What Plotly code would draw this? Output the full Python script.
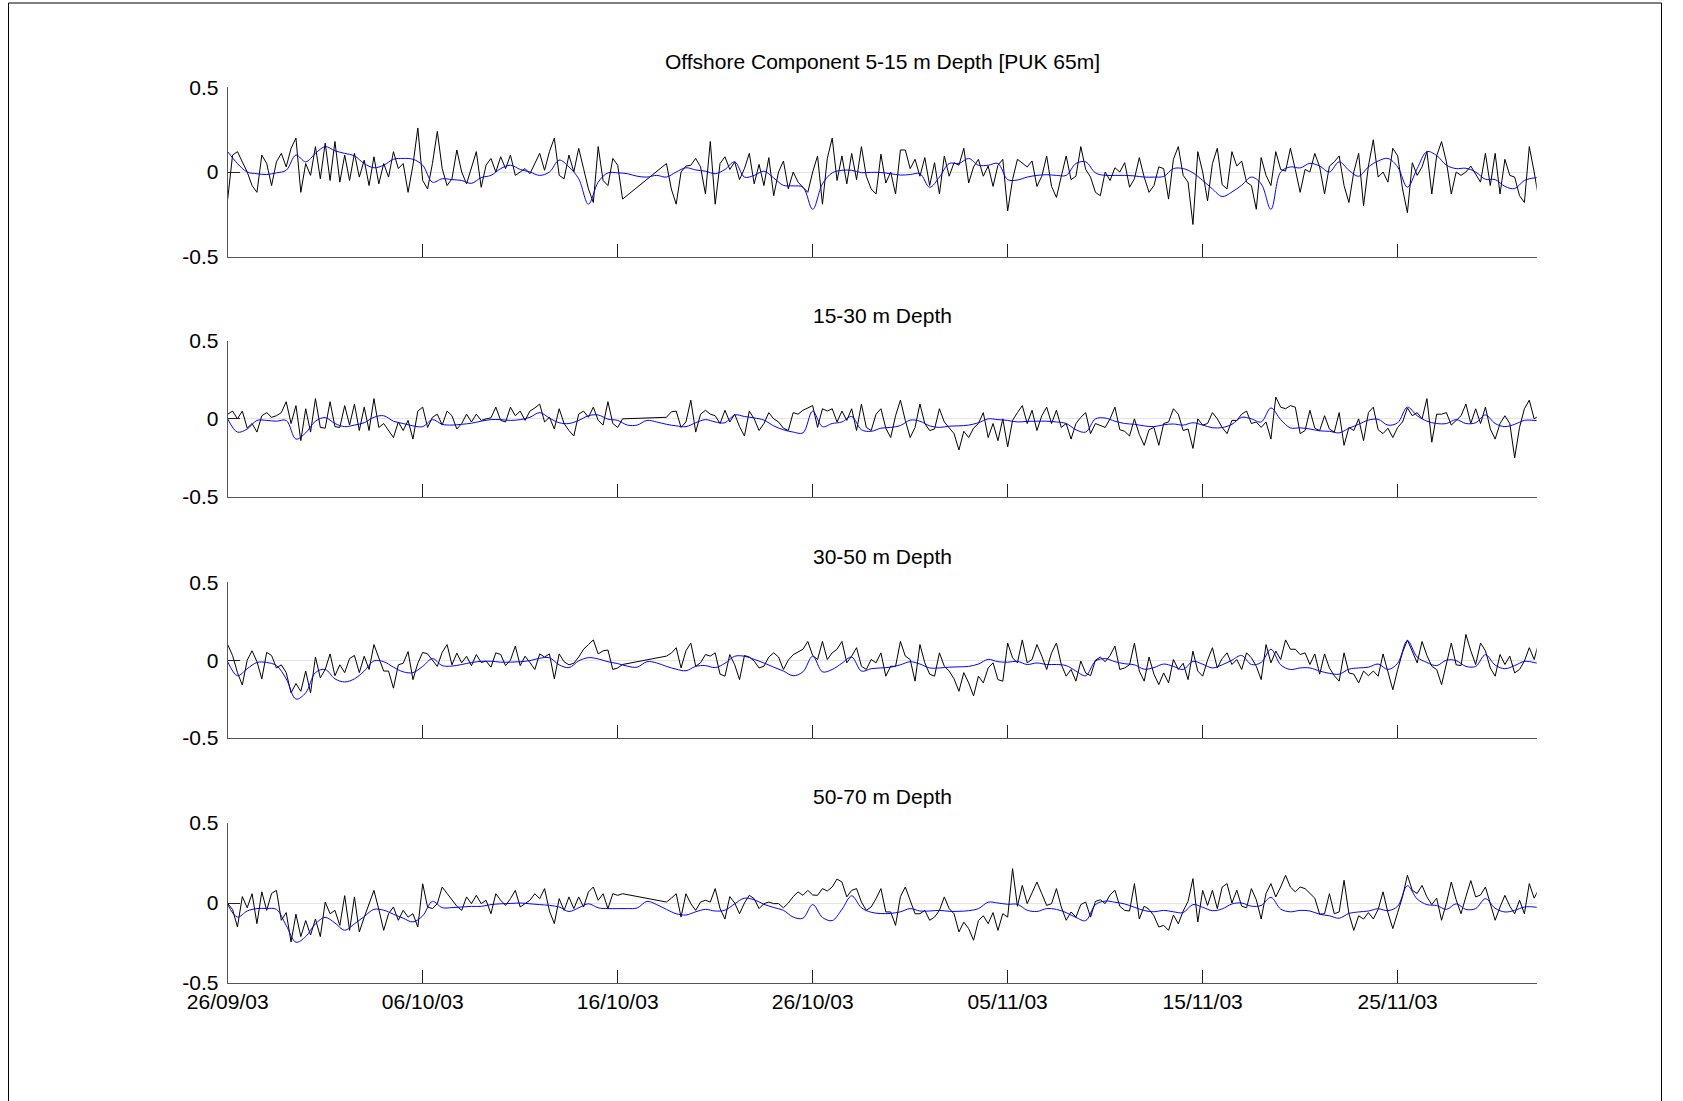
import pandas as pd
import plotly.graph_objects as go

# ---------------------------------------------------------------- data
start = "2003-09-26"
end = "2003-12-02 03:07"

tick_dates = ["2003-09-26", "2003-10-06", "2003-10-16", "2003-10-26",
              "2003-11-05", "2003-11-15", "2003-11-25"]
tick_text = ["26/09/03", "06/10/03", "16/10/03", "26/10/03",
             "05/11/03", "15/11/03", "25/11/03"]

y_ticks = [-0.5, 0, 0.5]
y_tick_text = ["-0.5", "0", "0.5"]

titles = ["Offshore Component 5-15 m Depth [PUK 65m]",
          "15-30 m Depth", "30-50 m Depth", "50-70 m Depth"]

# observed offshore component, 6-hourly (None = no record)
obs_5_15 = [
    -0.16, 0.10, 0.12, 0.06, 0.00, -0.08, -0.12, 0.10, 0.05, -0.08,
    0.06, 0.11, 0.03, 0.14, 0.20, -0.12, 0.05, -0.02, 0.15, -0.04,
    0.17, -0.05, 0.18, -0.06, 0.10, -0.05, 0.11, -0.03, 0.07, -0.08,
    0.09, -0.07, 0.05, -0.03, 0.12, 0.02, 0.05, -0.12, 0.04, 0.26,
    -0.05, -0.10, 0.05, 0.24, 0.02, -0.08, -0.04, 0.13, 0.00, -0.07,
    0.03, 0.12, -0.09, 0.04, 0.08, 0.00, 0.09, 0.02, 0.10, -0.02,
    0.00, 0.02, -0.01, 0.05, 0.11, 0.01, 0.12, 0.20, -0.02, -0.04,
    0.10, 0.00, 0.14, 0.02, -0.10, -0.18, 0.15, -0.05, -0.08, 0.08,
    0.04, -0.16,
    None, None, None, None, None, None, None, None,
    0.05, -0.10, -0.19, 0.00, 0.035, 0.04, 0.08, 0.03, -0.13, 0.18,
    -0.19, 0.05, 0.09, 0.015, 0.06, -0.045, 0.02, 0.11, -0.07, 0.045,
    -0.08, 0.085, -0.14, 0.00, 0.065, -0.10, 0.00, -0.06, -0.09, -0.12,
    0.00, 0.095, -0.19, 0.08, 0.20, -0.05, 0.095, -0.07, 0.11, -0.045,
    0.15, -0.025, -0.10, -0.13, 0.105, -0.065, 0.00, -0.13, 0.13, 0.13,
    0.02, 0.075, -0.025, 0.085, -0.08, 0.055, -0.13, 0.095, -0.025, 0.055,
    0.04, 0.14, -0.065, 0.03, 0.075, -0.025, 0.035, -0.085, 0.04, 0.075,
    -0.23, -0.045, 0.075, 0.055, 0.03, 0.065, -0.085, -0.025, 0.095, -0.085,
    -0.15, -0.025, 0.095, -0.045, -0.025, 0.15, 0.015,
    -0.03, -0.12, -0.14, 0.00, -0.05, 0.025, 0.00, 0.055, -0.09, -0.04,
    0.085, -0.03, -0.12, -0.08, 0.03, 0.02, -0.16, 0.075, 0.15, -0.02,
    -0.06, -0.31, 0.12, 0.00, -0.17, 0.05, 0.14, -0.075, -0.10, 0.12,
    0.035, 0.065, -0.06, -0.08, -0.22, 0.085, -0.02, -0.08, 0.12, 0.015,
    0.005, 0.14, 0.015, -0.12, 0.015, 0.00, 0.11, 0.03, -0.13, 0.035,
    0.06, 0.095, -0.08, -0.18, 0.00, 0.11, -0.20, 0.035, 0.19, -0.03,
    0.00, -0.06, 0.14, 0.095, -0.10, -0.24, 0.055, -0.02, 0.03, 0.12,
    -0.13, 0.095, 0.18, 0.06, -0.13, 0.00, -0.02, 0.00, 0.035, -0.01,
    -0.06, 0.11, -0.08, 0.11, -0.13, 0.075, -0.02, -0.03, -0.14, -0.18,
    0.15, 0.00, -0.17,
]

obs_15_30 = [
    0.03, 0.05, 0.00, 0.05, -0.06, -0.03, -0.085, 0.02, 0.04, 0.01,
    0.02, 0.04, 0.11, -0.03, 0.085, -0.14, 0.065, -0.085, 0.13, -0.055,
    -0.06, 0.11, -0.05, -0.055, 0.085, -0.04, 0.095, -0.075, 0.075, -0.075,
    0.13, -0.055, -0.03, -0.075, -0.12, -0.02, -0.075, -0.01, -0.13, 0.05,
    0.075, -0.055, 0.01, 0.03, -0.04, 0.05, 0.02, -0.065, -0.03, 0.03,
    -0.02, 0.03, -0.01, 0.00, 0.006, 0.075, -0.01, -0.02, 0.075, 0.02,
    0.05, -0.01, 0.05, 0.07, 0.095, -0.02, 0.01, -0.065, 0.065, -0.03,
    -0.075, -0.11, 0.03, 0.05, 0.01, 0.075, -0.01, -0.04, 0.11, -0.03,
    -0.055, 0.00,
    None, None, None, None, None, None, None, None,
    0.01, 0.045, 0.05, -0.055, -0.02, 0.12, -0.085, 0.03, 0.055, 0.03,
    0.02, -0.03, 0.055, -0.02, 0.03, -0.05, -0.11, 0.05, 0.00, -0.075,
    -0.03, 0.04, 0.00, -0.02, -0.06, -0.075, 0.04, 0.03, 0.055, 0.07,
    0.085, -0.055, 0.065, 0.05, 0.065, -0.02, 0.05, -0.01, 0.065, -0.075,
    0.095, -0.055, -0.075, 0.03, 0.065, -0.06, -0.12, 0.02, 0.12, -0.01,
    -0.12, -0.055, 0.095, -0.03, -0.075, -0.065, 0.065, -0.02, -0.055, -0.095,
    -0.20, -0.08, -0.12, -0.06, -0.03, 0.04, -0.12, -0.03, -0.14, 0.00,
    -0.18, -0.01, 0.04, 0.085, -0.03, 0.055, -0.075, 0.02, 0.075, -0.03,
    0.055, -0.055, -0.03, -0.13, -0.03, 0.01, 0.04,
    -0.095, -0.03, -0.04, -0.055, 0.00, 0.075, -0.07, -0.08, -0.11, 0.00,
    -0.10, -0.17, -0.07, -0.055, -0.17, -0.03, -0.02, 0.065, 0.03, -0.075,
    -0.065, -0.19, 0.00, -0.04, -0.03, 0.04, 0.00, -0.055, -0.095, -0.01,
    -0.01, 0.03, 0.05, -0.03, -0.02, -0.055, -0.02, -0.13, 0.14, 0.075,
    0.065, 0.085, 0.075, -0.095, -0.075, 0.055, -0.06, -0.075, 0.02, -0.065,
    -0.085, 0.04, -0.17, -0.055, -0.075, 0.00, -0.14, 0.04, 0.075, -0.07,
    -0.095, -0.06, -0.12, -0.055, -0.02, 0.07, 0.02, 0.04, 0.00, 0.13,
    -0.15, 0.03, 0.03, 0.04, -0.04, -0.01, 0.02, 0.095, -0.03, 0.065,
    -0.03, 0.075, -0.065, -0.13, -0.03, 0.02, -0.03, -0.25, -0.055, 0.065,
    0.12, 0.00, 0.02,
]

obs_30_50 = [
    0.10, 0.03, -0.08, -0.16, 0.00, 0.06, -0.01, -0.12, 0.05, 0.03,
    -0.05, -0.03, -0.08, -0.21, -0.15, -0.20, -0.07, -0.21, 0.02, -0.114,
    -0.06, 0.04, -0.10, -0.03, -0.08, 0.01, 0.03, -0.08, 0.025, -0.06,
    0.10, 0.02, -0.07, -0.07, -0.18, -0.03, -0.02, 0.055, -0.125, -0.02,
    0.05, 0.04, 0.00, -0.04, 0.05, 0.10, -0.03, 0.045, -0.017, 0.025,
    -0.035, 0.036, -0.015, -0.006, -0.045, 0.047, 0.036, -0.035, 0.00, 0.09,
    -0.035, 0.025, -0.015, -0.06, 0.04, 0.02, 0.04, -0.12, 0.04, -0.01,
    -0.03, -0.02, 0.02, 0.07, 0.10, 0.13, 0.04, 0.06, 0.065, -0.06,
    -0.05, -0.028,
    None, None, None, None, None, None, None, None,
    0.026, 0.045, 0.08, -0.05, 0.06, 0.11, -0.039, -0.017, 0.036, 0.026,
    0.047, -0.09, -0.103, 0.036, -0.03, -0.125, 0.03, 0.02, -0.006, -0.05,
    -0.039, 0.02, 0.047, 0.02, -0.06, 0.00, 0.035, 0.055, 0.07, 0.12,
    0.03, 0.004, 0.12, 0.004, 0.047, 0.07, 0.12, -0.017, 0.026, 0.08,
    -0.039, -0.06, 0.004, -0.017, 0.047, -0.103, -0.039, -0.04, 0.12, 0.026,
    0.004, -0.135, 0.10, -0.017, -0.09, -0.103, 0.047, -0.039, -0.07, -0.12,
    -0.20, -0.08, -0.146, -0.23, -0.103, -0.146, -0.05, -0.017, -0.125, -0.135,
    0.11, 0.015, -0.017, 0.13, -0.017, 0.004, 0.10, 0.026, -0.06, 0.047,
    0.11, -0.028, -0.103, -0.06, -0.135, -0.006, -0.082,
    -0.10, 0.00, 0.02, -0.01, 0.03, 0.09, -0.06, -0.05, -0.03, 0.11,
    -0.07, -0.135, 0.02, -0.09, -0.157, -0.082, -0.146, 0.004, -0.06, -0.02,
    -0.125, 0.058, -0.07, -0.103, 0.00, 0.08, -0.05, 0.01, 0.047, -0.028,
    0.004, -0.06, 0.047, 0.015, -0.039, -0.125, 0.10, -0.017, 0.058, 0.004,
    0.13, 0.07, 0.07, 0.036, 0.047, -0.028, 0.04, -0.09, 0.04, -0.05,
    -0.10, -0.135, 0.047, -0.082, -0.09, -0.146, -0.07, -0.10, -0.07, -0.103,
    0.04, -0.082, -0.19, -0.06, 0.05, 0.13, 0.05, -0.017, 0.12, 0.03,
    -0.039, -0.06, -0.157, -0.017, 0.11, -0.03, -0.035, 0.165, 0.06, -0.028,
    0.11, 0.06, -0.05, -0.103, 0.036, -0.028, 0.026, -0.082, -0.06, -0.006,
    0.08, 0.004, 0.12,
]

obs_50_70 = [
    -0.004, -0.04, -0.15, 0.04, -0.03, 0.058, -0.129, 0.07, -0.046, 0.06,
    0.079, -0.108, -0.06, -0.244, -0.07, -0.21, -0.11, -0.20, -0.10, -0.21,
    0.006, -0.067, -0.046, -0.14, 0.046, -0.171, 0.038, -0.181, -0.09, -0.004,
    0.079, -0.04, -0.171, -0.067, -0.025, -0.108, -0.046, -0.088, -0.067, -0.15,
    0.12, -0.025, -0.035, -0.004, 0.10, 0.06, 0.017, -0.02, -0.046, 0.038,
    -0.004, 0.048, -0.004, 0.017, -0.067, 0.058, 0.017, -0.015, 0.027, 0.079,
    -0.025, -0.004, 0.017, 0.058, 0.027, 0.09, -0.05, -0.129, 0.027, -0.046,
    0.038, -0.035, 0.038, -0.025, 0.069, 0.10, 0.017, 0.058, -0.035, 0.058,
    0.048, 0.058,
    None, None, None, None, None, None, None, None,
    0.006, 0.03, 0.058, -0.088, 0.058, -0.004, -0.046, 0.006, 0.017, 0.006,
    0.09, -0.035, -0.10, 0.04, 0.00, -0.067, 0.00, 0.048, 0.027, -0.035,
    -0.004, 0.006, -0.004, -0.004, -0.03, 0.00, 0.04, 0.069, 0.048, 0.079,
    0.05, 0.048, 0.09, 0.075, 0.10, 0.15, 0.131, 0.038, 0.079, 0.09,
    0.006, -0.046, -0.025, 0.027, 0.09, -0.056, -0.056, -0.14, 0.04, 0.10,
    0.02, -0.067, -0.067, -0.046, -0.108, -0.088, -0.046, 0.038, -0.035, -0.067,
    -0.181, -0.12, -0.16, -0.233, -0.11, -0.08, -0.129, -0.06, -0.171, -0.067,
    -0.088, 0.215, -0.02, 0.11, -0.004, 0.06, 0.131, 0.058, -0.015, -0.004,
    0.09, -0.025, -0.108, -0.056, -0.088, -0.01, 0.006,
    -0.088, 0.01, 0.02, -0.004, 0.05, 0.08, -0.02, -0.046, -0.05, 0.121,
    -0.10, -0.02, -0.04, -0.08, -0.15, -0.14, -0.171, -0.075, -0.13, -0.05,
    0.01, 0.152, -0.119, 0.079, -0.015, 0.079, -0.035, 0.10, 0.121, 0.00,
    0.08, -0.02, -0.03, 0.09, 0.02, -0.10, 0.06, 0.121, 0.038, 0.10,
    0.173, 0.10, 0.07, 0.10, 0.09, 0.06, 0.03, -0.07, -0.067, 0.058,
    -0.067, -0.056, 0.142, -0.067, -0.171, -0.08, -0.10, -0.06, -0.10, -0.04,
    0.07, -0.06, -0.16, -0.06, 0.04, 0.173, 0.079, 0.06, 0.11, 0.038,
    -0.01, 0.03, -0.108, 0.00, 0.131, 0.02, -0.067, 0.04, 0.14, 0.038,
    0.05, 0.10, -0.01, -0.108, -0.025, 0.048, -0.02, -0.067, 0.017, -0.067,
    0.121, 0.03, 0.09,
]

# low-passed component, 12-hourly
low_5_15 = [
    0.12, 0.05, 0.00, -0.01, -0.015, -0.005, 0.01, 0.10, 0.06, 0.11,
    0.15, 0.125, 0.11, 0.095, 0.05, 0.025, 0.04, 0.075, 0.08, 0.075,
    0.04, -0.06, -0.04, -0.045, -0.05, -0.067, -0.033, -0.02, 0.02, 0.04,
    0.015, 0.00, -0.02, 0.00, 0.07, 0.03, -0.04, -0.19, -0.06, -0.005,
    -0.005, -0.01, -0.025, -0.03,
    -0.02, -0.03, 0.00, 0.025, 0.012, 0.005, -0.01, 0.015, 0.06, -0.03,
    -0.02, 0.005, -0.035, -0.079, -0.082, -0.09, -0.22, -0.07, -0.005, 0.01,
    0.01, -0.004, -0.002, -0.003, -0.01, -0.018, -0.015, -0.01, -0.09, -0.03,
    0.05, 0.05, 0.08, 0.04, 0.04, 0.05, -0.045, -0.047, -0.03, -0.02,
    -0.016, -0.02, -0.02, 0.05, 0.06,
    -0.005, -0.02, -0.02, -0.02, -0.023, -0.03, -0.03, -0.026, 0.02, 0.02,
    -0.005, -0.05, -0.10, -0.145, -0.118, -0.078, -0.03, -0.07, -0.22, 0.00,
    0.03, 0.024, 0.051, 0.035, 0.00, 0.06, 0.01, -0.025, 0.03, 0.065,
    0.08, 0.03, -0.09, 0.02, 0.12, 0.097, 0.04, 0.02, 0.022, 0.00,
    -0.043, -0.045, -0.085, -0.098, -0.05, -0.035, -0.03,
]

low_15_30 = [
    0.00, -0.085, -0.065, -0.01, -0.01, -0.015, -0.01, -0.13, -0.09, -0.015,
    0.008, -0.03, -0.05, -0.04, -0.025, 0.01, 0.02, -0.015, -0.03, -0.045,
    -0.05, -0.005, -0.035, -0.04, -0.035, -0.028, -0.015, -0.005, -0.005, -0.01,
    -0.005, 0.01, 0.04, 0.005, -0.025, -0.03, -0.01, 0.02, 0.025, -0.002,
    -0.01, -0.04, -0.04, -0.01,
    -0.02, -0.035, -0.045, -0.05, -0.025, -0.005, -0.02, -0.025, 0.025, 0.015,
    0.006, -0.008, -0.045, -0.07, -0.085, -0.09, 0.05, -0.05, -0.03, -0.02,
    0.015, -0.07, -0.08, -0.06, -0.055, -0.043, -0.008, -0.015, -0.045, -0.055,
    -0.047, -0.045, -0.04, -0.025, 0.00, -0.005, -0.01, -0.02, -0.016, -0.015,
    -0.015, -0.02, -0.03, -0.07, -0.085,
    0.00, 0.005, -0.015, -0.03, -0.035, -0.045, -0.05, -0.038, -0.033, -0.04,
    -0.025, -0.04, -0.057, -0.056, -0.035, 0.01, 0.00, -0.02, 0.07, -0.005,
    -0.058, -0.058, -0.065, -0.077, -0.08, -0.09, -0.06, -0.035, -0.008, -0.003,
    -0.04, -0.025, 0.075, 0.02, -0.015, -0.03, -0.03, -0.005, -0.03, -0.025,
    0.025, -0.03, -0.05, -0.035, -0.01, -0.01, -0.02,
]

low_30_50 = [
    -0.01, -0.10, -0.055, -0.015, -0.015, -0.035, -0.12, -0.25, -0.21, -0.08,
    -0.06, -0.12, -0.14, -0.12, -0.07, -0.005, -0.01, -0.045, -0.075, -0.08,
    -0.04, 0.01, -0.035, -0.038, -0.028, -0.015, -0.008, -0.007, -0.013, -0.013,
    -0.01, -0.003, 0.012, 0.015, -0.03, -0.048, -0.005, 0.016, 0.008, -0.01,
    -0.022, -0.039, -0.045, -0.01,
    -0.018, -0.04, -0.058, -0.068, -0.04, -0.035, -0.048, -0.02, 0.025, 0.025,
    0.005, -0.018, -0.045, -0.07, -0.10, -0.075, 0.025, -0.075, -0.06, -0.02,
    0.02, -0.07, -0.055, -0.05, -0.045, -0.03, -0.01, -0.025, -0.05, -0.05,
    -0.045, -0.043, -0.04, -0.025, 0.005, -0.01, -0.013, -0.008, -0.028, -0.018,
    -0.028, -0.028, -0.035, -0.07, -0.10,
    -0.006, 0.01, -0.01, -0.023, -0.03, -0.058, -0.048, -0.025, -0.04, -0.06,
    -0.008, -0.026, -0.05, -0.03, 0.00, 0.03, -0.028, -0.015, 0.07, -0.03,
    -0.06, -0.05, -0.05, -0.07, -0.085, -0.09, -0.058, -0.05, -0.045, -0.025,
    -0.06, -0.02, 0.125, 0.02, -0.015, -0.035, 0.00, -0.003, -0.04, -0.04,
    0.035, -0.032, -0.055, -0.035, -0.008, -0.015, -0.032,
]

low_50_70 = [
    -0.01, -0.088, -0.05, -0.035, -0.034, -0.04, -0.14, -0.245, -0.21, -0.13,
    -0.09, -0.125, -0.17, -0.13, -0.085, -0.04, -0.045, -0.07, -0.095, -0.118,
    -0.08, 0.01, -0.029, -0.029, -0.025, -0.021, -0.021, -0.01, -0.005, -0.003,
    0.00, -0.005, -0.01, -0.015, -0.025, -0.053, -0.03, -0.005, -0.03, -0.035,
    -0.035, -0.035, -0.031, 0.01,
    -0.01, -0.04, -0.067, -0.075, -0.055, -0.04, -0.05, -0.045, -0.005, 0.03,
    0.02, -0.008, -0.028, -0.046, -0.088, -0.095, -0.01, -0.09, -0.11, -0.04,
    0.045, -0.03, -0.058, -0.066, -0.065, -0.055, -0.035, -0.05, -0.05, -0.046,
    -0.052, -0.052, -0.048, -0.035, 0.005, 0.00, -0.008, -0.008, -0.045, -0.053,
    -0.035, -0.04, -0.06, -0.09, -0.11,
    -0.01, 0.012, 0.005, -0.006, -0.027, -0.047, -0.055, -0.046, -0.055, -0.06,
    -0.01, -0.027, -0.048, -0.037, -0.006, 0.00, -0.02, -0.015, 0.035, -0.038,
    -0.055, -0.046, -0.05, -0.07, -0.08, -0.095, -0.065, -0.056, -0.05, -0.036,
    -0.048, -0.02, 0.108, 0.025, -0.01, -0.016, -0.04, -0.005, -0.04, -0.035,
    0.027, -0.033, -0.056, -0.046, -0.025, -0.025, -0.035,
]

observed = [obs_5_15, obs_15_30, obs_30_50, obs_50_70]
lowpass = [low_5_15, low_15_30, low_30_50, low_50_70]

# ---------------------------------------------------------------- layout
W, H = 1683, 1101
FONT = "Liberation Sans, Arial, Helvetica, sans-serif"
FS = 21
plot_left, plot_right = 227.7, 1536.7
panel_px = [(87.3, 256.7), (341.0, 496.7), (582.3, 738.0), (823.0, 983.0)]
title_px = [61.0, 315.5, 556.0, 796.5]

fig = go.Figure()
layout = dict(
    width=W, height=H,
    margin=dict(l=0, r=0, t=0, b=0, pad=0, autoexpand=False),
    paper_bgcolor="white", plot_bgcolor="white",
    showlegend=False,
    font=dict(family=FONT, size=FS, color="black"),
    annotations=[], shapes=[],
)

xdom = [plot_left / W, plot_right / W]
for i in range(4):
    n = "" if i == 0 else str(i + 1)
    top, bot = panel_px[i]
    t_obs = pd.date_range(start, periods=len(observed[i]), freq="6h")
    t_low = pd.date_range(start, periods=len(lowpass[i]), freq="12h")

    fig.add_trace(go.Scatter(
        x=t_obs, y=observed[i], mode="lines", connectgaps=True,
        line=dict(color="black", width=1),
        xaxis="x" + n, yaxis="y" + n, hoverinfo="skip"))
    fig.add_trace(go.Scatter(
        x=t_low, y=lowpass[i], mode="lines",
        line=dict(color="#0000ff", width=1, shape="spline", smoothing=1.0),
        xaxis="x" + n, yaxis="y" + n, hoverinfo="skip"))

    layout["xaxis" + n] = dict(
        domain=xdom, anchor="y" + n, type="date",
        range=[start, end], automargin=False,
        tickvals=tick_dates, ticktext=tick_text,
        showticklabels=(i == 3),
        ticks="inside", ticklen=13, tickwidth=1, tickcolor="#222",
        showline=True, linecolor="#555", linewidth=1, mirror=False,
        showgrid=False, zeroline=False,
        tickfont=dict(family=FONT, size=FS, color="black"),
    )
    layout["yaxis" + n] = dict(
        domain=[1 - bot / H, 1 - top / H], anchor="x" + n,
        range=[-0.5, 0.5], automargin=False,
        tickvals=y_ticks, ticktext=y_tick_text,
        ticks="inside", ticklen=12, tickwidth=1, tickcolor="#222",
        showline=True, linecolor="#555", linewidth=1, mirror=False,
        showgrid=False,
        zeroline=True, zerolinecolor="#e4e4e4", zerolinewidth=1,
        ticklabelstandoff=4,
        tickfont=dict(family=FONT, size=FS, color="black"),
    )
    layout["annotations"].append(dict(
        text=titles[i], xref="paper", yref="paper",
        x=(plot_left + plot_right) / 2 / W, y=1 - title_px[i] / H,
        xanchor="center", yanchor="middle", showarrow=False,
        font=dict(family=FONT, size=FS, color="black")))

# figure frame
layout["shapes"].append(dict(
    type="rect", xref="paper", yref="paper",
    x0=8.5 / W, x1=1661.5 / W, y0=-0.05, y1=1 - 3.0 / H,
    line=dict(color="black", width=1), fillcolor="rgba(0,0,0,0)"))

fig.update_layout(**layout)
fig.write_html("out.html")
